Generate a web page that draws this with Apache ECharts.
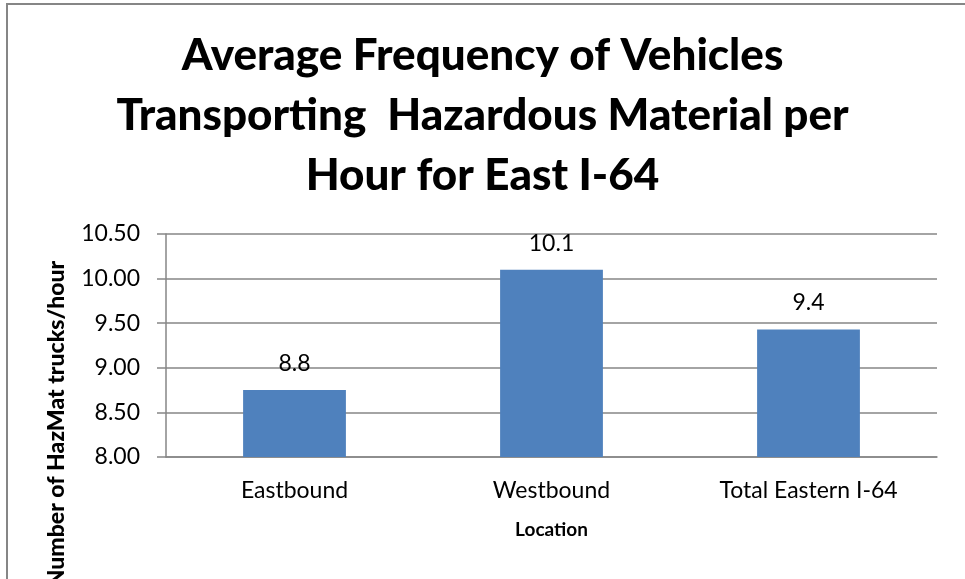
<!DOCTYPE html>
<html>
<head>
<meta charset="utf-8">
<script src="https://cdn.jsdelivr.net/npm/echarts@6/dist/echarts.min.js"></script>
<style>
  html, body { margin: 0; padding: 0; background: #fff; }
  #chart { width: 965px; height: 579px; }
</style>
</head>
<body>
<div id="chart"></div>
<script>
const categories = ['Eastbound', 'Westbound', 'Total Eastern I-64']
const values = [8.75, 10.1, 9.43]
const yTicks = { min: 8, max: 10.5, interval: 0.5 }

const fontFamily = 'Lato, "Open Sans", sans-serif'
const gridColor = '#868686'

const chart = echarts.init(document.getElementById('chart'))

chart.setOption({
    animation: false,
    textStyle: { fontFamily: fontFamily },
    title: {
        text: 'Average Frequency of Vehicles\nTransporting  Hazardous Material per\nHour for East I-64',
        left: 'center',
        top: 21,
        textStyle: {
            fontFamily: fontFamily,
            fontSize: 44,
            fontWeight: 900,
            lineHeight: 60,
            color: '#000'
        }
    },
    grid: {
        left: 166,
        right: 28,
        top: 234,
        bottom: 122
    },
    xAxis: {
        type: 'category',
        data: categories,
        name: 'Location',
        nameLocation: 'middle',
        nameGap: 63,
        nameTextStyle: {
            fontSize: 19,
            fontWeight: 'bold',
            color: '#000'
        },
        axisLine: { lineStyle: { color: gridColor, width: 1.5 } },
        axisTick: { show: false },
        axisLabel: {
            fontSize: 23,
            color: '#000',
            margin: 22
        }
    },
    yAxis: {
        type: 'value',
        min: yTicks.min,
        max: yTicks.max,
        interval: yTicks.interval,
        axisLine: { show: true, lineStyle: { color: gridColor, width: 1.5 } },
        axisTick: { show: true, length: 9, lineStyle: { color: gridColor, width: 1.5 } },
        splitLine: { lineStyle: { color: gridColor, width: 1.5 } },
        axisLabel: {
            fontSize: 23,
            color: '#000',
            margin: 26,
            formatter: v => v.toFixed(2)
        }
    },
    series: [{
        type: 'bar',
        data: values,
        barWidth: '40%',
        itemStyle: { color: '#4F81BD' },
        label: {
            show: true,
            position: 'top',
            distance: 15,
            fontSize: 23,
            color: '#000',
            formatter: p => p.value.toFixed(1)
        }
    }],
    graphic: [
        {
            type: 'rect',
            shape: { x: 7, y: 4, width: 1000, height: 1000 },
            style: { fill: 'none', stroke: gridColor, lineWidth: 2 },
            silent: true
        },
        {
            type: 'text',
            x: 57,
            y: 424,
            rotation: Math.PI / 2,
            style: {
                text: 'Number of HazMat trucks/hour',
                fontFamily: fontFamily,
                fontSize: 23,
                fontWeight: 900,
                fill: '#000',
                textAlign: 'center',
                textVerticalAlign: 'middle'
            }
        }
    ]
})
</script>
</body>
</html>
